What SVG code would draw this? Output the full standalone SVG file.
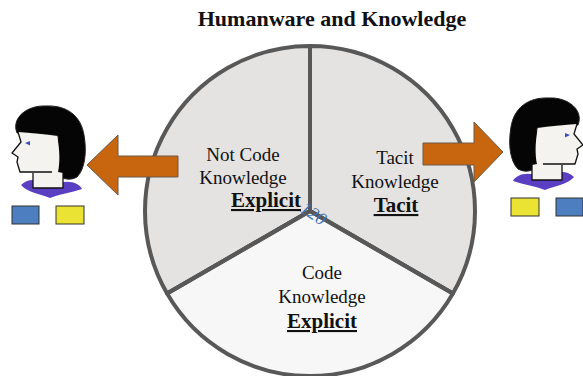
<svg xmlns="http://www.w3.org/2000/svg" xmlns:xlink="http://www.w3.org/1999/xlink" width="583" height="376" viewBox="0 0 583 376">
  <style>
    .title { font-family: "Liberation Serif", "Times New Roman", serif; font-weight: bold; font-size: 22px; fill: #111; }
    .lbl { font-family: "Liberation Serif", "Times New Roman", serif; font-size: 19px; fill: #111; text-anchor: middle; }
    .key { font-family: "Liberation Serif", "Times New Roman", serif; font-size: 21px; font-weight: bold; fill: #111; text-anchor: middle; text-decoration: underline; }
    .sector { stroke: #585858; stroke-width: 4; stroke-linejoin: round; }
    .upper { fill: #e4e3e2; }
    .lower { fill: #f7f7f7; }
    .arrow { fill: #c8650f; stroke: #6a5a4a; stroke-width: 1; }
    .ink { fill: none; stroke: #111; stroke-width: 1.3; stroke-linejoin: round; }
    .angle { font-family: "Liberation Serif", "Times New Roman", serif; font-style: italic; font-size: 18px; fill: #3f72b5; }
  </style>
  <defs>
    <!-- person in profile, facing left -->
    <g id="person">
      <path d="M17,133 C11,118 27,105 46,106 C67,105 81,116 84,135 C87,152 85,169 77,177 C70,181 62,179 58,175 L58,136 C45,134 30,133 17,133 Z" fill="#050505" stroke="#222" stroke-width="1"/>
      <path d="M21,185 C29,178 36,180 40,182 L60,183 C69,180 79,183 82,189 C71,193 59,194 50,198 C40,194 27,192 21,185 Z" fill="#5a3fc2"/>
      <path d="M18,132 C30,133 45,134 57,136 C60,150 60,163 58,172 L63,173 L63,188 L33,188 L33,173 L20,172 L17,162 L18,157 L12,153 L21,142 Z" fill="#f5f3ef"/>
      <path class="ink" d="M18,132 L21,142 L12,153 L18,157 L17,162 L20,172 L52,172"/>
      <path class="ink" d="M33,173 L33,188 L63,188 L63,173"/>
      <path d="M25,143 L30,141 L30,145.5 Z" fill="#3f4fc5"/>
      <rect x="12" y="206" width="27" height="18" fill="#4d7ebf" stroke="#333" stroke-width="1"/>
      <rect x="56" y="206" width="28" height="18" fill="#ebe333" stroke="#333" stroke-width="1"/>
    </g>
  </defs>

  <text class="title" x="332" y="26" text-anchor="middle">Humanware and Knowledge</text>

  <!-- knowledge wheel -->
  <g id="wheel">
    <path id="sector-explicit-tacit-left" class="sector upper" d="M310,211 L310,46 A165,165 0 0,0 167.1,293.5 Z"/>
    <path id="sector-tacit" class="sector upper" d="M310,211 L310,46 A165,165 0 0,1 452.9,293.5 Z"/>
    <path id="sector-code" class="sector lower" d="M310,211 L167.1,293.5 A165,165 0 0,0 452.9,293.5 Z"/>
    <path class="sector" fill="none" d="M310,46 L310,211 L167.1,293.5 M310,211 L452.9,293.5"/>
    <text class="angle" x="0" y="0" transform="translate(299,211) rotate(34)">120</text>
  </g>

  <g id="label-left">
    <text class="lbl" x="243" y="161">Not Code</text>
    <text class="lbl" x="243" y="184">Knowledge</text>
    <text class="key" x="266" y="207">Explicit</text>
  </g>
  <g id="label-right">
    <text class="lbl" x="395" y="164">Tacit</text>
    <text class="lbl" x="395" y="188">Knowledge</text>
    <text class="key" x="396" y="212">Tacit</text>
  </g>
  <g id="label-bottom">
    <text class="lbl" x="322" y="279">Code</text>
    <text class="lbl" x="322" y="303">Knowledge</text>
    <text class="key" x="322" y="328">Explicit</text>
  </g>

  <!-- connectors -->
  <g id="connectors">
    <polygon class="arrow" points="87,165 118,135 118,156 178,156 178,177 118,177 118,195"/>
    <polygon class="arrow" points="423,143 474,143 474,122 503,152 474,182 474,165 423,165"/>
  </g>

  <g id="person-left">
    <use xlink:href="#person"/>
  </g>
  <g id="person-right">
    <use xlink:href="#person" transform="translate(595,-8) scale(-1,1)"/>
  </g>
</svg>
